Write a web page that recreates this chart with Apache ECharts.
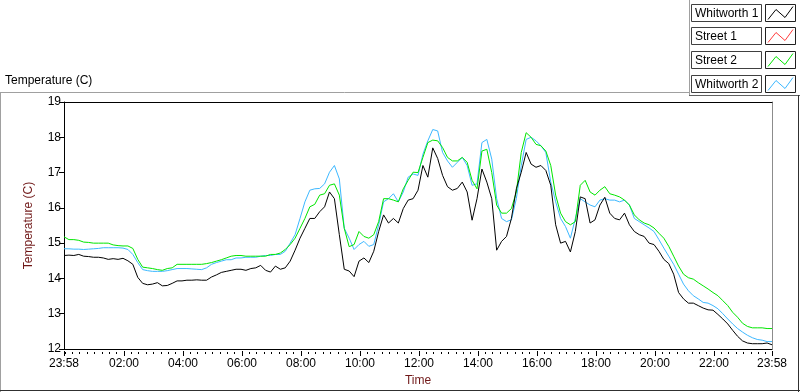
<!DOCTYPE html>
<html>
<head>
<meta charset="utf-8">
<script src="https://cdn.jsdelivr.net/npm/echarts@6/dist/echarts.min.js"></script>
<style>
html, body { margin: 0; padding: 0; background: #fff; }
#main { width: 800px; height: 392px; }
</style>
</head>
<body>
<div id="main"></div>
<script>
// series names and colours (legend order)
var seriesNames = ['Whitworth 1', 'Street 1', 'Street 2', 'Whitworth 2'];
var seriesColors = ['#000000', '#ff3c3c', '#00e600', '#3cb8ff'];

// x axis labels (clock time), samples every 10 minutes from 23:58
var tickLabels = ['23:58', '02:00', '04:00', '06:00', '08:00', '10:00', '12:00', '14:00', '16:00', '18:00', '20:00', '22:00', '23:58'];
var sampleStep = 10;
var yTicks = [12, 13, 14, 15, 16, 17, 18, 19];

var whitworth1 = [
  14.65, 14.66, 14.65, 14.68, 14.63, 14.62, 14.6, 14.6, 14.58, 14.54,
  14.56, 14.54, 14.57, 14.5, 14.4, 14.03, 13.86, 13.82, 13.84, 13.88,
  13.79, 13.8, 13.86, 13.93, 13.93, 13.95, 13.95, 13.96, 13.95, 13.95,
  14.04, 14.1, 14.17, 14.2, 14.23, 14.26, 14.26, 14.23, 14.28, 14.3,
  14.37, 14.23, 14.18, 14.35, 14.26, 14.3, 14.49, 14.8, 15.14, 15.42,
  15.7, 15.7, 15.89, 16.03, 16.45, 16.26, 15.24, 14.26, 14.21, 14.05,
  14.49, 14.58, 14.45, 14.77, 15.33, 15.8, 15.57, 15.7, 15.57, 15.98,
  16.22, 16.26, 16.5, 17.2, 16.87, 17.7, 17.4, 16.92, 16.6, 16.5,
  16.55, 16.73, 16.45, 15.65, 16.26, 17.1, 16.73, 16.26, 14.8, 15.05,
  15.19, 15.7, 16.54, 17.01, 17.57, 17.24, 17.15, 17.2, 17.06, 16.64,
  15.52, 15.0, 15.05, 14.75, 15.33, 16.31, 16.26, 15.57, 15.66, 16.08,
  16.3, 15.85, 15.7, 15.66, 15.85, 15.52, 15.33, 15.24, 15.19, 15.0,
  14.96, 14.77, 14.54, 14.42, 14.12, 13.6, 13.42, 13.3, 13.3, 13.23,
  13.16, 13.11, 13.1, 12.98, 12.85, 12.71, 12.53, 12.36, 12.23, 12.17,
  12.15, 12.15, 12.15, 12.17, 12.12
];
var street1 = [];
var street2 = [
  15.18, 15.1, 15.1, 15.08, 15.03, 15.02, 15.0, 15.0, 15.0, 15.0,
  14.95, 14.93, 14.92, 14.92, 14.85, 14.54, 14.32, 14.3, 14.28, 14.25,
  14.23, 14.28, 14.3, 14.4, 14.4, 14.4, 14.4, 14.4, 14.4, 14.42,
  14.45, 14.49, 14.53, 14.58, 14.63, 14.65, 14.65, 14.63, 14.63, 14.63,
  14.63, 14.63, 14.68, 14.68, 14.72, 14.82, 14.96, 15.14, 15.42, 15.7,
  16.03, 16.1, 16.36, 16.4, 16.64, 16.68, 16.36, 15.42, 14.9, 14.96,
  15.33, 15.19, 15.14, 15.24, 15.61, 16.26, 16.26, 16.22, 16.17, 16.54,
  16.78, 17.01, 17.0, 17.43, 17.85, 17.92, 17.9, 17.71, 17.43, 17.33,
  17.33, 17.43, 17.29, 16.78, 16.54, 17.61, 17.66, 17.0, 16.08, 15.85,
  15.85, 15.98, 16.45, 17.57, 18.13, 18.0, 17.8, 17.76, 17.61, 17.2,
  16.36, 15.85, 15.61, 15.52, 15.61, 16.64, 16.78, 16.45, 16.36, 16.5,
  16.6, 16.4, 16.36, 16.31, 16.22, 16.08, 15.8, 15.66, 15.57, 15.52,
  15.43, 15.28, 15.14, 14.91, 14.63, 14.35, 14.12, 14.02, 13.98, 13.88,
  13.79, 13.7, 13.6, 13.51, 13.37, 13.23, 13.04, 12.9, 12.73, 12.64,
  12.6, 12.6, 12.6, 12.58, 12.58
];
var whitworth2 = [
  14.84, 14.84, 14.83, 14.83, 14.82, 14.83, 14.84, 14.85, 14.87, 14.87,
  14.87, 14.87, 14.86, 14.82, 14.68, 14.45, 14.25, 14.22, 14.2, 14.2,
  14.2, 14.22, 14.25, 14.28, 14.28, 14.28, 14.27, 14.26, 14.25, 14.3,
  14.4, 14.45, 14.49, 14.53, 14.53, 14.58, 14.58, 14.6, 14.6, 14.6,
  14.63, 14.65, 14.65, 14.68, 14.68, 14.77, 15.0, 15.24, 15.7, 16.17,
  16.5, 16.54, 16.55, 16.68, 17.01, 17.2, 16.82, 15.42, 15.14, 14.82,
  14.96, 15.05, 14.91, 14.96, 15.52, 16.17, 16.26, 16.4, 16.17, 16.45,
  16.87, 16.96, 16.92, 17.52, 17.9, 18.22, 18.18, 17.57, 17.33, 17.15,
  17.29, 17.43, 17.2, 16.64, 16.68, 17.85, 17.94, 17.38, 16.26, 15.7,
  15.61, 15.66, 16.26, 17.2, 17.94, 18.0, 17.9, 17.76, 17.57, 16.73,
  16.17, 15.7, 15.47, 15.14, 15.7, 16.26, 16.17, 16.08, 16.03, 16.22,
  16.26, 16.22, 16.22, 16.17, 16.22, 16.08, 15.7, 15.61, 15.52, 15.43,
  15.33, 15.1, 14.86, 14.63, 14.4, 14.12, 13.84, 13.65, 13.51, 13.42,
  13.32, 13.3, 13.23, 13.14, 13.0, 12.85, 12.71, 12.58, 12.48, 12.39,
  12.32, 12.27, 12.25, 12.21, 12.21
];

var seriesData = [whitworth1, street1, street2, whitworth2];
var FONT = 'Liberation Sans';
var TITLE_COLOR = '#701818';

// minutes after 23:58 for each tick label
var lastTick = tickLabels.length - 1;
var tickPos = tickLabels.map(function (lab, i) {
    if (i === 0) return 0;
    if (i === lastTick) return 1440;
    var p = lab.split(':');
    return (+p[0]) * 60 + (+p[1]) + 2;
});
var minorPos = [];
for (var m = 2; m < 1440; m += 15) minorPos.push(m);

function clock(v) {
    var t = (v + 23 * 60 + 58) % 1440;
    var h = Math.floor(t / 60), mm = t % 60;
    return (h < 10 ? '0' : '') + h + ':' + (mm < 10 ? '0' : '') + mm;
}

var myChart = echarts.init(document.getElementById('main'));

// legend boxes at the top right, drawn as graphics
var legendItems = [];
seriesNames.forEach(function (name, r) {
    var top = Math.round(3.5 + r * 23.7) + 0.5;
    legendItems.push(
        { type: 'rect', shape: { x: 691.5, y: top, width: 70, height: 17 },
          style: { fill: '#fff', stroke: '#404040', lineWidth: 1 } },
        { type: 'text', x: 695, y: top + 9,
          style: { text: name, fill: '#000', font: '12px ' + FONT, verticalAlign: 'middle' } },
        { type: 'rect', shape: { x: 765.5, y: top, width: 30, height: 17 },
          style: { fill: '#fff', stroke: '#202020', lineWidth: 1 } },
        { type: 'polyline',
          shape: { points: [[768, top + 15], [776, top + 5], [785, top + 13], [793, top + 2]] },
          style: { stroke: seriesColors[r], lineWidth: 1, fill: null } }
    );
});

var option = {
    backgroundColor: '#fff',
    animation: false,
    textStyle: { fontFamily: FONT },
    grid: { left: 64, right: 28, top: 102, bottom: 40, show: false },
    graphic: [
        // frame
        { type: 'line', shape: { x1: 0, y1: 92.5, x2: 689, y2: 92.5 }, style: { stroke: '#a0a0a0', lineWidth: 1 } },
        { type: 'line', shape: { x1: 689.5, y1: 0, x2: 689.5, y2: 95 }, style: { stroke: '#a0a0a0', lineWidth: 1 } },
        { type: 'line', shape: { x1: 689, y1: 95.5, x2: 800, y2: 95.5 }, style: { stroke: '#606060', lineWidth: 1 } },
        { type: 'line', shape: { x1: 0.5, y1: 92, x2: 0.5, y2: 392 }, style: { stroke: '#a0a0a0', lineWidth: 1 } },
        { type: 'line', shape: { x1: 0, y1: 390.5, x2: 800, y2: 390.5 }, style: { stroke: '#303030', lineWidth: 1 } },
        { type: 'line', shape: { x1: 798.5, y1: 95, x2: 798.5, y2: 392 }, style: { stroke: '#303030', lineWidth: 1 } },
        { type: 'text', x: 5, y: 75,
          style: { text: 'Temperature (C)', fill: '#000', font: '12px ' + FONT } }
    ].concat(legendItems),
    xAxis: [
        {
            type: 'value', min: 0, max: 1440, position: 'bottom',
            name: 'Time', nameLocation: 'middle', nameGap: 26,
            nameTextStyle: { color: TITLE_COLOR, fontSize: 12, fontFamily: FONT },
            axisLine: { onZero: false, lineStyle: { color: '#000', width: 1 } },
            axisTick: { show: false },
            axisLabel: { customValues: tickPos, formatter: clock, color: '#000', fontSize: 12, margin: 9 },
            splitLine: { show: false }
        },
        {
            type: 'value', min: 0, max: 1440, position: 'bottom', offset: 2,
            axisLine: { show: false, onZero: false },
            axisTick: { customValues: tickPos, length: 5, lineStyle: { color: '#000', width: 1 } },
            axisLabel: { show: false },
            splitLine: { show: false }
        },
        {
            type: 'value', min: 0, max: 1440, position: 'bottom', offset: 3,
            axisLine: { show: false, onZero: false },
            axisTick: { customValues: minorPos, length: 2, lineStyle: { color: '#000', width: 1 } },
            axisLabel: { show: false },
            splitLine: { show: false }
        },
        {
            type: 'value', min: 0, max: 1440, position: 'top',
            axisLine: { onZero: false, lineStyle: { color: '#000', width: 1 } },
            axisTick: { show: false }, axisLabel: { show: false }, splitLine: { show: false }
        }
    ],
    yAxis: [
        {
            type: 'value', min: yTicks[0], max: yTicks[yTicks.length - 1], interval: 1, position: 'left',
            name: 'Temperature (C)', nameLocation: 'middle', nameGap: 29,
            nameTextStyle: { color: TITLE_COLOR, fontSize: 12, fontFamily: FONT },
            axisLine: { show: true, onZero: false, lineStyle: { color: '#000', width: 1 } },
            axisTick: { show: true, length: 5, lineStyle: { color: '#000' } },
            axisLabel: { color: '#000', fontSize: 12, margin: 3 },
            splitLine: { show: false }
        },
        {
            type: 'value', min: yTicks[0], max: yTicks[yTicks.length - 1], position: 'right',
            axisLine: { show: true, onZero: false, lineStyle: { color: '#8c8c8c', width: 1 } },
            axisTick: { show: false }, axisLabel: { show: false }, splitLine: { show: false }
        }
    ],
    series: seriesNames.map(function (name, k) {
        return {
            name: name,
            type: 'line',
            xAxisIndex: 0,
            yAxisIndex: 0,
            showSymbol: false,
            color: seriesColors[k],
            lineStyle: { width: 1, color: seriesColors[k] },
            z: 10 - k,
            data: seriesData[k].map(function (v, i) { return [i * sampleStep, v]; })
        };
    })
};

myChart.setOption(option);
</script>
</body>
</html>
